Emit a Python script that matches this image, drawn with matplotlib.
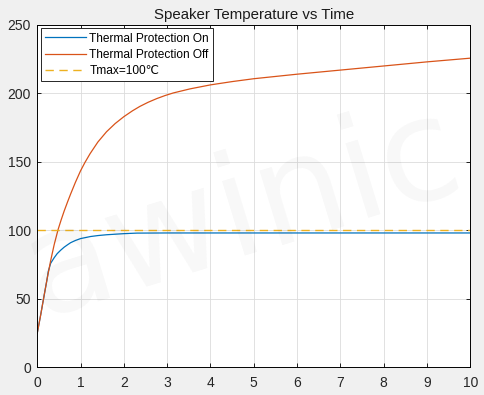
import matplotlib
matplotlib.use("Agg")
import matplotlib.pyplot as plt

# read-off samples: time [s] and speaker temperature [degC]
t_off = [0, 0.08, 0.15, 0.23, 0.31, 0.39, 0.48, 0.55, 0.62, 0.7, 0.77, 0.88,
         1.0, 1.1, 1.22, 1.4, 1.6, 1.8, 2.0, 2.2, 2.37, 2.56, 2.76, 2.95, 3.14,
         3.53, 4.0, 4.5, 5.0, 6.0, 7.0, 8.0, 9.0, 10.0]
temp_off = [25, 38.5, 51, 65, 78, 89.5, 100.5, 107.5, 114, 120.8, 126.5, 135,
            143.5, 149.5, 156, 164.5, 172, 178, 183, 187.3, 190.5, 193.5, 196.2,
            198.4, 200.3, 203.3, 206.2, 208.6, 210.7, 214, 217, 220, 223, 225.7]

t_on = [0, 0.08, 0.15, 0.23, 0.254, 0.31, 0.39, 0.46, 0.54, 0.62, 0.7, 0.77,
        0.88, 1.0, 1.23, 1.4, 1.6, 1.8, 2.0, 2.3, 3.0, 10.0]
temp_on = [25, 38.5, 51, 65, 70, 76, 80, 83, 85.5, 87.7, 89.5, 91,
           92.6, 94, 95.5, 96.2, 96.8, 97.2, 97.6, 98, 98.1, 98.1]

t_max = 100

plt.rcParams['font.family'] = ['Liberation Sans', 'DejaVu Sans']

fig = plt.figure(figsize=(4.84, 3.95), dpi=100, facecolor='#f0f0f0')
ax = fig.add_axes([0.077, 0.070, 0.8946, 0.867])

ax.plot(t_on, temp_on, color='#0072bd', lw=0.9, label='Thermal Protection On')
ax.plot(t_off, temp_off, color='#d95319', lw=0.9, label='Thermal Protection Off')
ax.axhline(t_max, color='#edb120', lw=1.0, ls=(0, (6, 4)), label='Tmax=100℃')

ax.set_xlim(0, 10)
ax.set_ylim(0, 250)
ax.set_xticks(range(0, 11))
ax.set_yticks(range(0, 251, 50))
ax.grid(True, color='#dcdcdc', lw=0.6)
ax.set_axisbelow(True)
ax.tick_params(direction='in', top=True, right=True, length=3, width=0.6,
               labelsize=10, labelcolor='#262626')
ax.tick_params(axis='x', pad=6)
ax.tick_params(axis='y', pad=4.5)
for s in ax.spines.values():
    s.set_linewidth(0.7)
ax.set_title('Speaker Temperature vs Time', fontsize=10.8, color='#1a1a1a', pad=4)

leg = ax.legend(loc='upper left', fontsize=8.6, handlelength=3.4, borderpad=0.35,
                labelspacing=0.35, handletextpad=0.3, fancybox=False,
                edgecolor='#262626', framealpha=1, borderaxespad=0.3)
leg.get_frame().set_linewidth(0.7)

# faint watermark
fig.text(0.5, 0.46, 'awinic', fontsize=102, rotation=17, color='k', alpha=0.03,
         ha='center', va='center', family='DejaVu Sans', zorder=10)

fig.savefig('out.png', dpi=100, facecolor=fig.get_facecolor())
